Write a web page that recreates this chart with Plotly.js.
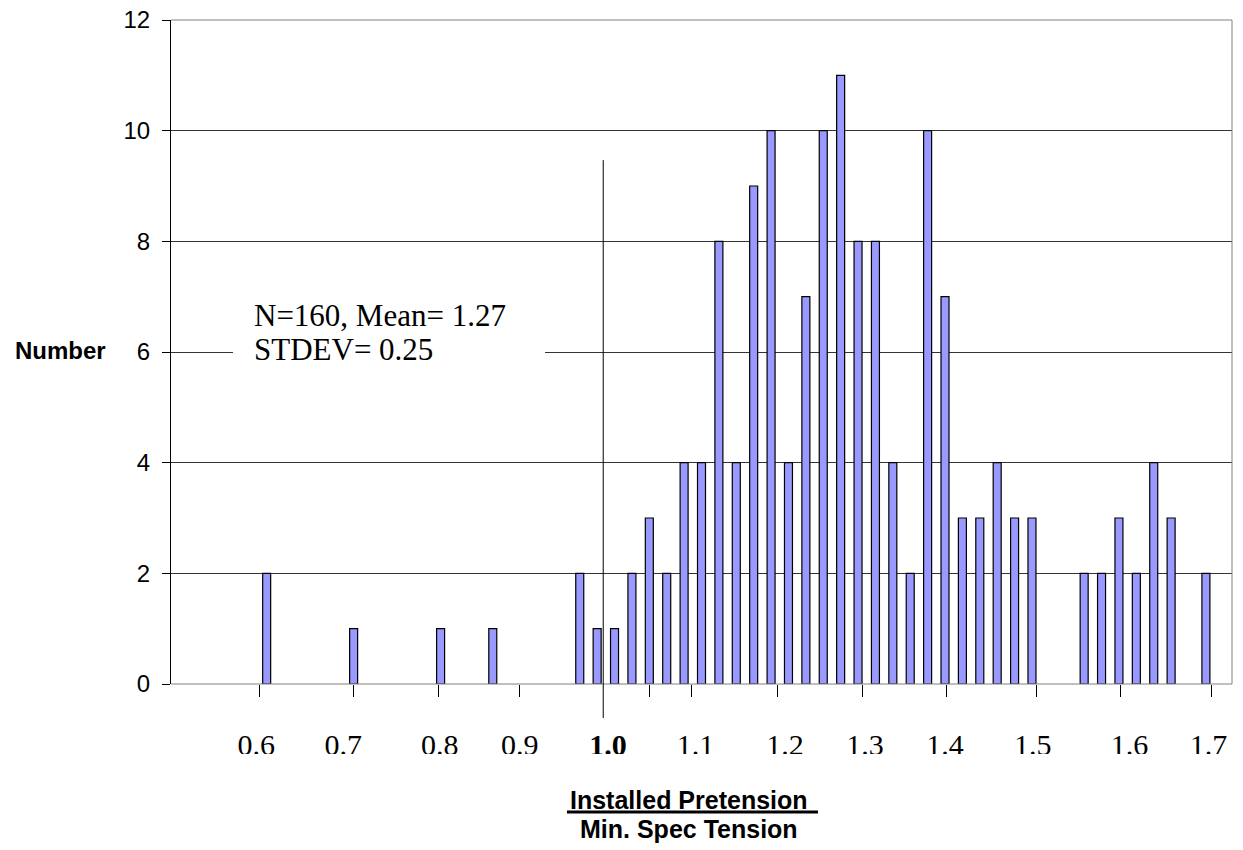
<!DOCTYPE html>
<html>
<head>
<meta charset="utf-8">
<script src="https://cdn.plot.ly/plotly-3.0.1.min.js"></script>
<style>
  html, body { margin: 0; padding: 0; background: #fff; }
  #chart { width: 1243px; height: 850px; }
</style>
</head>
<body>
<div id="chart"></div>
<script>
// Pretension ratio bins (installed / minimum specified) and bolt counts per bin
const tensionRatio = [0.60, 0.70, 0.80, 0.86, 0.96, 0.98, 1.00, 1.02, 1.04, 1.06,
                      1.08, 1.10, 1.12, 1.14, 1.16, 1.18, 1.20, 1.22, 1.24, 1.26,
                      1.28, 1.30, 1.32, 1.34, 1.36, 1.38, 1.40, 1.42, 1.44, 1.46,
                      1.48, 1.54, 1.56, 1.58, 1.60, 1.62, 1.64, 1.68];
const boltCount    = [2, 1, 1, 1, 2, 1, 1, 2, 3, 2,
                      4, 4, 8, 4, 9, 10, 4, 7, 10, 11,
                      8, 8, 4, 2, 10, 7, 3, 3, 4, 3,
                      3, 2, 2, 3, 2, 4, 3, 2];

// Axis labels along the ratio scale
const ratioLabels = ['0.6', '0.7', '0.8', '0.9', '<b>1.0</b>', '1.1', '1.2', '1.3', '1.4', '1.5', '1.6', '1.7'];

// Summary statistics of the sample
const sampleSize = boltCount.reduce((a, b) => a + b, 0);
const meanRatio = '1.27';
const stdevRatio = '0.25';

// Placement of the ratio labels and their tick marks (axis units)
const labelAt = [0.588, 0.688, 0.799, 0.891, 0.9925, 1.093, 1.196, 1.288, 1.380, 1.481, 1.592, 1.683];
const tickAt  = [0.592, 0.700, 0.798, 0.891, 1.040, 1.088, 1.187, 1.285, 1.382, 1.485, 1.582, 1.686];
const specLineAt = 0.987;   // reference line at ratio 1.0

const xRange = [0.49, 1.71];
const serif = 'Liberation Serif, Times New Roman, serif';
const sans = 'Liberation Sans, Arial, sans-serif';

const bars = {
  type: 'bar',
  x: tensionRatio,
  y: boltCount,
  width: 0.0092,
  marker: { color: '#9999FF', line: { color: '#000000', width: 1.2 } },
  hoverinfo: 'x+y'
};

// carries the tick-mark axis (draws nothing itself)
const tickCarrier = {
  type: 'scatter',
  mode: 'none',
  x: tensionRatio,
  y: boltCount,
  xaxis: 'x2',
  yaxis: 'y',
  hoverinfo: 'skip',
  showlegend: false
};

const layout = {
  width: 1243,
  height: 850,
  margin: { l: 171, r: 11, t: 20, b: 166 },
  paper_bgcolor: '#ffffff',
  plot_bgcolor: '#ffffff',
  showlegend: false,
  bargap: 0,
  xaxis: {
    range: xRange,
    tickmode: 'array',
    tickvals: labelAt,
    ticktext: ratioLabels,
    ticks: '',
    tickfont: { family: serif, size: 30, color: '#000' },
    ticklabelstandoff: 40,
    showgrid: false,
    zeroline: false,
    showline: false,
    fixedrange: true
  },
  xaxis2: {
    overlaying: 'x',
    anchor: 'y',
    side: 'bottom',
    range: xRange,
    tickmode: 'array',
    tickvals: tickAt,
    showticklabels: false,
    ticks: 'outside',
    ticklen: 12,
    tickwidth: 1,
    tickcolor: '#000',
    showgrid: false,
    zeroline: false,
    showline: false,
    fixedrange: true
  },
  yaxis: {
    range: [0, 12],
    tickmode: 'linear',
    tick0: 0,
    dtick: 2,
    ticks: 'outside',
    ticklen: 8,
    tickwidth: 1,
    tickcolor: '#000',
    ticklabelstandoff: 7,
    tickfont: { family: sans, size: 24, color: '#000' },
    showgrid: true,
    gridcolor: '#333333',
    gridwidth: 1,
    zeroline: false,
    showline: true,
    linecolor: '#000',
    linewidth: 1,
    fixedrange: true
  },
  shapes: [
    // plot frame: top, right, bottom
    { type: 'line', xref: 'paper', yref: 'paper', x0: 0, x1: 1, y0: 1, y1: 1, layer: 'above', line: { color: '#808080', width: 1 } },
    { type: 'line', xref: 'paper', yref: 'paper', x0: 1, x1: 1, y0: 0, y1: 1, layer: 'above', line: { color: '#808080', width: 1 } },
    { type: 'line', xref: 'paper', yref: 'paper', x0: 0, x1: 1, y0: 0, y1: 0, layer: 'above', line: { color: '#808080', width: 1 } },
    // ratio = 1.0 reference line
    { type: 'line', xref: 'x', yref: 'paper', x0: specLineAt, x1: specLineAt, y0: -0.0512, y1: 0.789, layer: 'above', line: { color: '#000', width: 1 } },
    // backing panel of the statistics note
    { type: 'rect', xref: 'paper', yref: 'paper', x0: 0.0584, x1: 0.3525, y0: 0.461, y1: 0.593, layer: 'above', fillcolor: '#ffffff', line: { width: 0 } },
    // lower edge of the ratio labels
    { type: 'rect', xref: 'paper', yref: 'paper', x0: 0.04, x1: 1.01, y0: -0.1055, y1: -0.145, layer: 'above', fillcolor: '#ffffff', line: { width: 0 } },
    // fraction bar of the x-axis title
    { type: 'line', xref: 'paper', yref: 'paper', x0: 0.3732, x1: 0.6098, y0: -0.1928, y1: -0.1928, layer: 'above', line: { color: '#000', width: 3 } }
  ],
  annotations: [
    { xref: 'paper', yref: 'paper', x: 0.0763, y: 0.5557, xanchor: 'left', yanchor: 'middle', showarrow: false,
      text: 'N=' + sampleSize + ', Mean= ' + meanRatio, font: { family: serif, size: 31, color: '#000' } },
    { xref: 'paper', yref: 'paper', x: 0.0763, y: 0.5045, xanchor: 'left', yanchor: 'middle', showarrow: false,
      text: 'STDEV= ' + stdevRatio, font: { family: serif, size: 31, color: '#000' } },
    { xref: 'paper', yref: 'paper', x: -0.1041, y: 0.503, xanchor: 'center', yanchor: 'middle', showarrow: false,
      text: '<b>Number</b>', font: { family: sans, size: 24, color: '#000' } },
    { xref: 'paper', yref: 'paper', x: 0.4882, y: -0.1743, xanchor: 'center', yanchor: 'middle', showarrow: false,
      text: '<b>Installed Pretension</b>', font: { family: sans, size: 25, color: '#000' } },
    { xref: 'paper', yref: 'paper', x: 0.4882, y: -0.2179, xanchor: 'center', yanchor: 'middle', showarrow: false,
      text: '<b>Min. Spec Tension</b>', font: { family: sans, size: 25, color: '#000' } }
  ]
};

Plotly.newPlot('chart', [bars, tickCarrier], layout, { displayModeBar: false, staticPlot: true });
</script>
</body>
</html>
